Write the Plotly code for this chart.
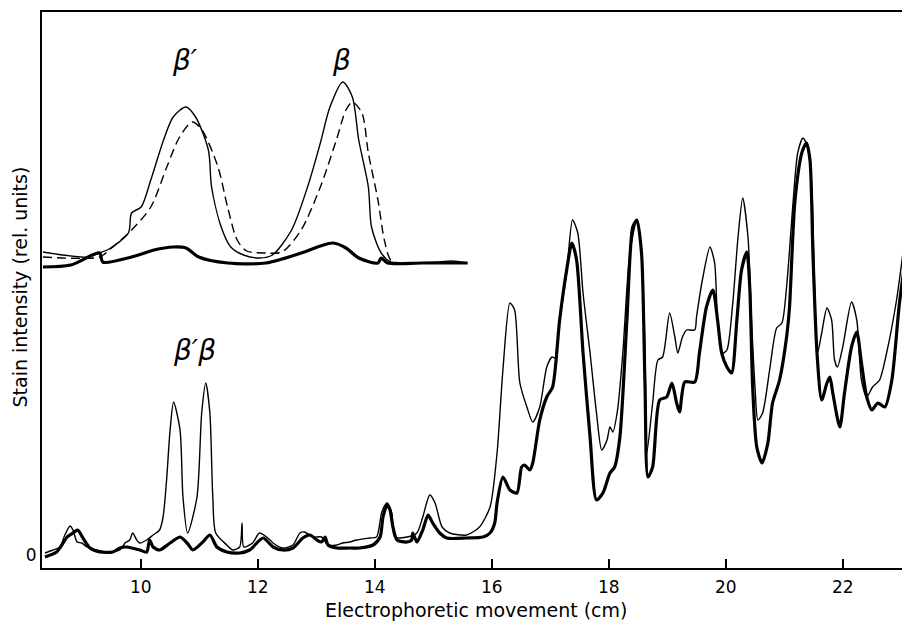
import plotly.graph_objects as go

# ---------------- main traces (x in cm, y in relative stain units) ----------------
thin_x = [8.36, 8.50, 8.62, 8.70, 8.79, 8.84, 8.91, 8.99, 9.08, 9.25, 9.42, 9.64, 9.73, 9.81,
          9.86, 9.93, 9.98, 10.10, 10.21, 10.32, 10.38, 10.44, 10.50, 10.56, 10.67, 10.72,
          10.80, 10.96, 11.04, 11.11, 11.18, 11.23, 11.28, 11.47, 11.57, 11.69, 11.73, 11.76,
          11.91, 12.03, 12.21, 12.26, 12.43, 12.60, 12.72, 12.80, 12.94, 13.09, 13.20, 13.35,
          13.45, 13.57, 13.69, 13.91, 14.03, 14.12, 14.21, 14.29, 14.34, 14.55, 14.72, 14.82,
          14.94, 15.03, 15.15, 15.28, 15.57, 15.79, 15.97, 16.09, 16.19, 16.31, 16.39, 16.48,
          16.60, 16.70, 16.82, 16.94, 17.03, 17.08, 17.16, 17.28, 17.38, 17.47, 17.56, 17.68,
          17.79, 17.88, 17.97, 18.02, 18.07, 18.15, 18.24, 18.36, 18.48, 18.56, 18.62, 18.65,
          18.75, 18.84, 18.92, 19.04, 19.13, 19.18, 19.26, 19.33, 19.47, 19.50, 19.60, 19.73,
          19.81, 19.86, 19.95, 20.02, 20.12, 20.21, 20.29, 20.38, 20.44, 20.50, 20.55, 20.63,
          20.75, 20.87, 20.96, 21.04, 21.15, 21.23, 21.32, 21.40, 21.47, 21.52, 21.57, 21.64,
          21.73, 21.81, 21.86, 21.91, 22.00, 22.15, 22.24, 22.32, 22.41, 22.51, 22.63, 22.75,
          22.92, 23.03, 23.15]
thin_y = [0.4, 1.0, 1.6, 4.0, 5.8, 5.0, 2.6, 2.4, 1.6, 1.0, 0.6, 1.0, 2.4, 3.0,
          4.4, 3.0, 2.4, 3.0, 4.0, 5.0, 7.6, 15.0, 25.0, 30.6, 25.0, 11.6,
          4.4, 11.6, 28.4, 34.4, 28.4, 11.6, 4.4, 2.0, 1.0, 1.6, 6.4, 1.6,
          2.4, 4.4, 3.0, 2.4, 1.4, 2.0, 4.4, 4.6, 3.6, 3.6, 2.0, 2.0,
          2.4, 2.6, 3.0, 3.4, 3.6, 8.6, 10.4, 8.4, 3.6, 3.6, 4.4, 7.6,
          12.0, 10.4, 5.6, 4.4, 4.0, 5.6, 9.6, 20.4, 37.0, 50.4, 49.0, 34.4,
          29.6, 26.6, 29.6, 37.6, 39.6, 39.4, 47.0, 56.4, 67.0, 64.4, 52.4, 40.4,
          28.4, 21.0, 23.0, 25.6, 24.6, 29.0, 40.4, 60.4, 67.0, 60.4, 40.4, 20.4,
          30.4, 39.0, 39.6, 48.4, 43.6, 40.4, 43.6, 45.0, 45.0, 47.6, 55.0, 61.6,
          58.4, 47.0, 40.4, 41.0, 50.4, 63.6, 71.4, 63.6, 47.0, 33.6, 27.0, 28.4,
          37.0, 45.4, 46.4, 53.6, 70.4, 80.4, 83.4, 81.6, 73.6, 53.6, 40.4, 44.4,
          49.4, 47.0, 39.0, 37.6, 41.6, 50.6, 47.0, 35.0, 31.6, 33.6, 35.0, 40.4,
          51.0, 60.4, 71.0]

thick_x = [8.36, 8.56, 8.65, 8.74, 8.84, 8.92, 9.01, 9.13, 9.30, 9.52, 9.64, 9.76, 9.98,
           10.10, 10.15, 10.21, 10.32, 10.50, 10.67, 10.79, 10.89, 11.06, 11.18, 11.30,
           11.47, 11.69, 11.86, 12.09, 12.26, 12.43, 12.60, 12.77, 12.89, 13.01, 13.09,
           13.15, 13.20, 13.35, 13.57, 13.74, 13.97, 14.09, 14.14, 14.21, 14.26, 14.31,
           14.38, 14.55, 14.63, 14.65, 14.72, 14.82, 14.91, 14.99, 15.11, 15.23, 15.57,
           15.85, 15.97, 16.05, 16.09, 16.19, 16.31, 16.43, 16.51, 16.56, 16.65, 16.70,
           16.82, 16.94, 17.04, 17.16, 17.28, 17.37, 17.45, 17.56, 17.68, 17.79, 17.90,
           18.02, 18.10, 18.19, 18.31, 18.41, 18.48, 18.56, 18.62, 18.67, 18.75, 18.87,
           18.99, 19.08, 19.16, 19.21, 19.30, 19.47, 19.55, 19.67, 19.78, 19.86, 19.93,
           20.02, 20.10, 20.19, 20.27, 20.36, 20.41, 20.46, 20.53, 20.62, 20.72, 20.80,
           20.92, 21.04, 21.09, 21.18, 21.30, 21.38, 21.44, 21.49, 21.56, 21.64, 21.73,
           21.78, 21.83, 21.95, 22.03, 22.15, 22.24, 22.32, 22.41, 22.50, 22.60, 22.72,
           22.84, 22.97, 23.15]
thick_y = [-0.4, 0.6, 2.0, 3.6, 4.4, 5.0, 3.4, 1.4, 0.6, 0.6, 1.4, 1.6, 1.0,
           0.6, 3.0, 1.6, 1.0, 2.4, 3.6, 2.4, 1.0, 2.6, 4.0, 1.6,
           0.6, 0.4, 1.0, 3.4, 1.6, 1.0, 1.4, 3.4, 4.0, 3.0, 2.6,
           3.6, 2.0, 1.4, 1.4, 1.4, 2.0, 3.6, 7.6, 10.0, 9.0, 5.6,
           3.0, 2.6, 3.0, 4.4, 2.6, 5.0, 8.0, 6.4, 4.4, 3.4, 3.4,
           3.6, 4.4, 6.4, 10.4, 15.6, 13.0, 12.4, 17.6, 18.0, 17.0, 18.4,
           27.0, 31.6, 33.6, 47.0, 57.0, 62.4, 59.0, 40.4, 23.6, 11.0, 12.4,
           16.4, 17.6, 23.6, 47.0, 65.6, 67.0, 60.4, 33.6, 15.6, 17.6, 31.0,
           31.6, 34.4, 30.4, 28.6, 34.6, 34.6, 40.4, 49.6, 53.0, 47.0, 40.4,
           37.6, 36.4, 47.0, 57.0, 60.6, 53.6, 33.6, 21.6, 18.4, 22.4, 30.4,
           35.0, 43.6, 49.6, 70.4, 80.4, 82.4, 79.0, 60.4, 40.4, 31.0, 34.4,
           35.6, 32.4, 25.6, 32.4, 41.6, 44.6, 38.4, 31.6, 29.0, 30.4, 29.6,
           35.0, 50.4, 65.6]

# ---------------- inset traces (expanded beta'/beta region) ----------------
ins_solid_x = [10.163, 10.30, 10.34, 10.37, 10.43, 10.44, 10.47, 10.50, 10.54, 10.57, 10.61,
               10.64, 10.68, 10.69, 10.72, 10.75, 10.79, 10.84, 10.88, 10.94, 10.99, 11.03,
               11.06, 11.10, 11.13, 11.15, 11.18, 11.19, 11.22, 11.25, 11.28, 11.40, 11.44,
               11.49]
ins_solid_y = [5.5, 3.0, 5.0, 7.0, 15.0, 25.0, 28.0, 41.5, 61.5, 73.0, 78.0,
               73.0, 56.5, 38.0, 18.0, 8.0, 4.0, 2.5, 4.0, 16.5, 38.0, 60.0,
               78.0, 90.5, 83.0, 61.5, 38.0, 18.0, 5.0, 0.5, 0.0, 0.5, 1.0,
               0.0]

ins_dash_x = [10.163, 10.34, 10.37, 10.44, 10.50, 10.55, 10.59, 10.63, 10.66, 10.71, 10.74,
              10.77, 10.80, 10.86, 10.91, 10.97, 11.03, 11.08, 11.11, 11.13, 11.16, 11.18,
              11.21, 11.23, 11.25, 11.28]
ins_dash_y = [3.0, 3.0, 6.5, 16.5, 28.0, 48.0, 63.0, 70.5, 66.5, 48.0, 28.0,
              11.5, 6.0, 5.0, 5.5, 16.5, 38.0, 61.5, 76.5, 80.5, 75.0, 55.0,
              31.5, 11.5, 1.5, 0.0]

ins_thick_x = [10.163, 10.25, 10.34, 10.35, 10.44, 10.51, 10.57, 10.61, 10.65, 10.74, 10.86,
               10.97, 11.03, 11.07, 11.11, 11.15, 11.21, 11.22, 11.24, 11.35, 11.49]
ins_thick_y = [-2.0, -1.0, 5.0, 0.5, 3.0, 6.5, 8.0, 7.5, 3.0, 0.0, 0.0,
               5.0, 8.5, 10.0, 7.5, 2.5, 0.0, 2.5, 0.0, 0.0, 0.0]

x_ticks = [10, 12, 14, 16, 18, 20, 22]

FONT = "DejaVu Sans"
fig = go.Figure()

fig.add_trace(go.Scatter(x=thin_x, y=thin_y, mode="lines",
                         line=dict(color="black", width=1.4, shape="spline", smoothing=0.7),
                         hoverinfo="skip"))
fig.add_trace(go.Scatter(x=thick_x, y=thick_y, mode="lines",
                         line=dict(color="black", width=3.2, shape="spline", smoothing=0.7),
                         hoverinfo="skip"))

fig.add_trace(go.Scatter(x=ins_solid_x, y=ins_solid_y, mode="lines", xaxis="x2", yaxis="y2",
                         line=dict(color="black", width=1.4, shape="spline", smoothing=0.8),
                         hoverinfo="skip"))
fig.add_trace(go.Scatter(x=ins_dash_x, y=ins_dash_y, mode="lines", xaxis="x2", yaxis="y2",
                         line=dict(color="black", width=1.4, shape="spline", smoothing=0.8,
                                   dash="9px,5px"),
                         hoverinfo="skip"))
fig.add_trace(go.Scatter(x=ins_thick_x, y=ins_thick_y, mode="lines", xaxis="x2", yaxis="y2",
                         line=dict(color="black", width=3.2, shape="spline", smoothing=0.8),
                         hoverinfo="skip"))

# The page body has an 8 px margin, so the figure is 8 px smaller and the margins
# are reduced accordingly to land the plot area where the reference has it.
fig.update_layout(
    width=902, height=622,
    margin=dict(l=34, r=0, t=4, b=62),
    paper_bgcolor="white", plot_bgcolor="rgba(0,0,0,0)",
    showlegend=False,
    font=dict(family=FONT, color="black"),
    xaxis=dict(range=[8.31, 23.15], tickvals=x_ticks, ticktext=[str(t) for t in x_ticks],
               ticks="inside", ticklen=9, tickwidth=2, tickcolor="black",
               showline=True, linecolor="black", linewidth=2, mirror=True,
               showgrid=False, zeroline=False, ticklabelstandoff=3,
               tickfont=dict(size=17, family=FONT)),
    yaxis=dict(range=[-2.6, 108.6], tickvals=[0], ticktext=["0"], ticks="",
               showline=True, linecolor="black", linewidth=2,
               showgrid=False, zeroline=False,
               tickfont=dict(size=17, family=FONT)),
    xaxis2=dict(domain=[0, 0.493], range=[10.16, 11.4975], anchor="y2",
                visible=False, showgrid=False, zeroline=False),
    yaxis2=dict(domain=[0, 1], range=[-152.5, 125.5], anchor="x2", overlaying="y",
                visible=False, showgrid=False, zeroline=False),
    annotations=[
        dict(text="Electrophoretic movement (cm)", xref="paper", yref="paper",
             x=0.5, y=-0.076, xanchor="center", yanchor="middle", showarrow=False,
             font=dict(size=19, family=FONT)),
        dict(text="Stain intensity (rel. units)", xref="paper", yref="paper",
             x=-0.025, y=0.505, xanchor="center", yanchor="middle", textangle=-90,
             showarrow=False, font=dict(size=19, family=FONT)),
        dict(text="<i>β′β</i>", xref="x", yref="y", x=10.92, y=41,
             showarrow=False, font=dict(size=28, family=FONT)),
        dict(text="<i>β′</i>", xref="x2", yref="y2", x=10.607, y=101.5,
             showarrow=False, font=dict(size=28, family=FONT)),
        dict(text="<i>β</i>", xref="x2", yref="y2", x=11.0975, y=101.5,
             showarrow=False, font=dict(size=28, family=FONT)),
    ],
)

fig.write_html("out.html")
